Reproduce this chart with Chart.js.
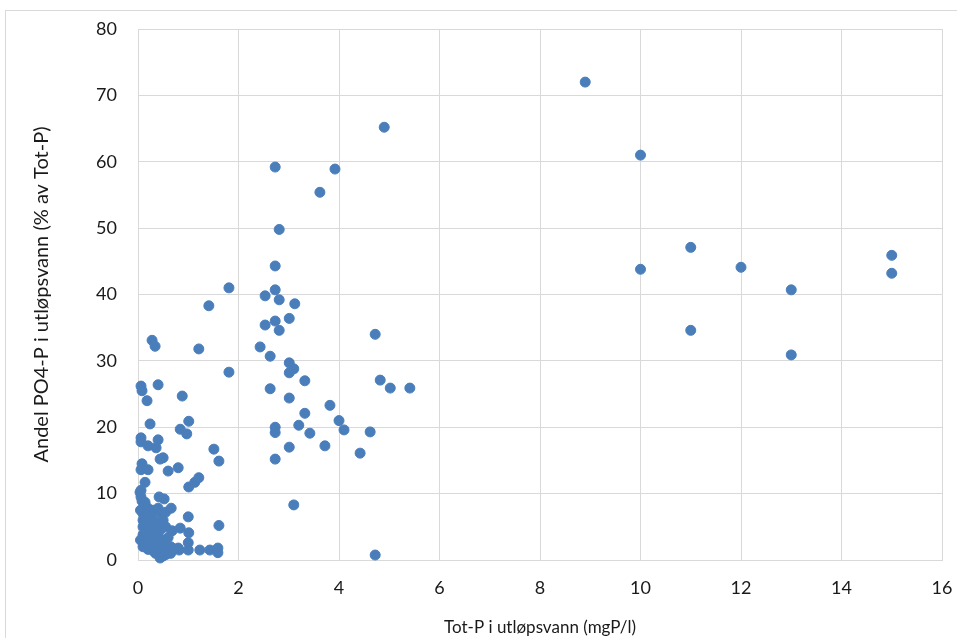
<!DOCTYPE html>
<html>
<head>
    <title>Andel PO4-P i utløpsvann</title>
    <script src="https://cdn.jsdelivr.net/npm/chart.js"></script>
    <style>
        body {
            margin: 0;
            background: #fff;
        }
        .chart-container {
            position: relative;
            width: 957px;
            height: 638px;
        }
    </style>
</head>
<body>
    <div class="chart-container">
        <canvas id="scatter"></canvas>
    </div>

    <script>
        // Tot-P (mgP/l) and share of PO4-P (% of Tot-P), one entry per plant
        const totP = [
            // low Tot-P cluster
            0.05, 0.10, 0.15, 0.20, 0.25, 0.30, 0.40, 0.45, 0.55, 0.10,
            0.20, 0.30, 0.40, 0.50, 0.10, 0.15, 0.25, 0.35, 0.45, 0.55,
            0.10, 0.20, 0.30, 0.40, 0.50, 0.60, 0.05, 0.15, 0.25, 0.35,
            0.45, 0.55, 0.65, 0.10, 0.20, 0.30, 0.40, 0.50, 0.60, 0.70,
            0.80, 0.45, 0.55, 0.50, 0.35, 0.65,
            // rest of the 0-2 range
            0.06, 0.08, 0.40, 0.88, 0.18, 0.24, 1.01, 0.84, 0.97, 0.06,
            0.06, 0.40, 0.20, 0.36, 1.51, 1.61, 0.50, 0.44, 0.08, 0.06,
            0.20, 0.80, 0.60, 1.21, 1.13, 1.01, 0.14, 0.06, 0.06, 0.42,
            0.52, 0.08, 0.66, 1.00, 1.61, 0.84, 0.68, 1.01, 1.00, 1.00,
            1.23, 1.43, 1.59, 1.59, 0.68, 0.82, 0.44, 0.28, 0.34, 1.21,
            1.41, 1.81, 1.81, 0.04, 0.14,
            // 2-6 range
            2.73, 3.92, 3.62, 2.81, 2.73, 2.73, 2.53, 2.81, 3.12, 3.01,
            2.73, 2.53, 2.81, 4.72, 2.43, 2.63, 3.01, 3.10, 3.01, 3.32,
            4.82, 5.02, 5.41, 2.63, 3.01, 3.82, 3.32, 4.00, 2.73, 2.73,
            3.20, 3.42, 4.10, 4.62, 3.01, 3.72, 4.42, 2.73, 3.10, 4.72,
            4.90,
            // high Tot-P
            8.9, 10, 10, 11, 11, 12, 13, 13, 15, 15
        ];

        const andelPO4 = [
            7.5, 7.0, 6.5, 7.8, 6.8, 7.5, 7.8, 7.0, 7.2, 6.0,
            5.5, 6.0, 5.5, 6.0, 5.0, 4.5, 4.8, 4.2, 4.6, 5.0,
            3.8, 3.5, 3.2, 3.6, 3.0, 3.4, 3.0, 2.5, 2.2, 2.6,
            2.0, 2.4, 2.0, 2.0, 1.6, 1.4, 1.8, 1.5, 1.2, 1.6,
            1.8, 1.0, 0.8, 0.6, 1.0, 1.0,
            26.2, 25.5, 26.4, 24.7, 24.0, 20.5, 20.9, 19.7, 19.0, 18.4,
            17.8, 18.1, 17.2, 16.9, 16.7, 14.9, 15.4, 15.2, 14.5, 13.6,
            13.6, 13.9, 13.4, 12.4, 11.7, 11.0, 11.7, 10.5, 9.5, 9.5,
            9.2, 8.9, 7.8, 6.5, 5.2, 4.8, 4.4, 4.1, 2.6, 1.5,
            1.5, 1.5, 1.8, 1.1, 1.8, 1.5, 0.3, 33.1, 32.2, 31.8,
            38.3, 41.0, 28.3, 10.2, 8.7,
            59.2, 58.9, 55.4, 49.8, 44.3, 40.7, 39.8, 39.2, 38.6, 36.4,
            36.0, 35.4, 34.6, 34.0, 32.1, 30.7, 29.7, 28.8, 28.2, 27.0,
            27.1, 25.9, 25.9, 25.8, 24.4, 23.3, 22.1, 21.0, 20.0, 19.2,
            20.3, 19.1, 19.6, 19.3, 17.0, 17.2, 16.1, 15.2, 8.3, 0.75,
            65.2,
            72.0, 61.0, 43.8, 47.1, 34.6, 44.1, 40.7, 30.9, 45.9, 43.2
        ];

        const xTicks = [0, 2, 4, 6, 8, 10, 12, 14, 16];
        const yTicks = [0, 10, 20, 30, 40, 50, 60, 70, 80];

        const points = totP.map((x, i) => ({ x: x, y: andelPO4[i] }));

        // thin outer frame around the whole chart
        const frame = {
            id: 'frame',
            beforeDraw(chart) {
                const c = chart.ctx;
                c.save();
                c.strokeStyle = '#d9d9d9';
                c.lineWidth = 1;
                c.strokeRect(5.5, 10.5, chart.width, chart.height);
                c.restore();
            }
        };

        const tickFont = { family: 'Lato', size: 18 };

        new Chart(document.getElementById('scatter'), {
            type: 'scatter',
            data: {
                datasets: [{
                    data: points,
                    backgroundColor: '#4a7ebb',
                    borderColor: '#4a7ebb',
                    pointRadius: 5,
                    pointHoverRadius: 5,
                    clip: false
                }]
            },
            options: {
                responsive: true,
                maintainAspectRatio: false,
                animation: false,
                layout: {
                    padding: { top: 29, right: 15, left: 0, bottom: 0 }
                },
                plugins: {
                    legend: { display: false },
                    tooltip: { enabled: false }
                },
                scales: {
                    x: {
                        type: 'linear',
                        min: 0,
                        max: 16,
                        afterBuildTicks: s => { s.ticks = xTicks.map(v => ({ value: v })); },
                        afterFit: s => {
                            // fixed axis band; label overflow is covered by layout padding
                            s.height = 78;
                            s.paddingLeft = 0;
                            s.paddingRight = 0;
                        },
                        grid: { color: '#d9d9d9', drawTicks: false },
                        border: { color: '#d9d9d9' },
                        ticks: { font: tickFont, color: '#1a1a1a', padding: 17 },
                        title: {
                            display: true,
                            text: 'Tot-P i utløpsvann (mgP/l)',
                            font: { family: 'Lato', size: 17 },
                            color: '#1a1a1a',
                            padding: { top: 0, bottom: 0 }
                        }
                    },
                    y: {
                        min: 0,
                        max: 80,
                        afterBuildTicks: s => { s.ticks = yTicks.map(v => ({ value: v })); },
                        afterFit: s => {
                            s.width = 138;
                            s.paddingTop = 0;
                            s.paddingBottom = 0;
                        },
                        grid: { color: '#d9d9d9', drawTicks: false },
                        border: { color: '#d9d9d9' },
                        ticks: { font: tickFont, color: '#1a1a1a', padding: 21 },
                        title: {
                            display: true,
                            text: 'Andel PO4-P i utløpsvann (% av Tot-P)',
                            font: { family: 'Lato', size: 20 },
                            color: '#1a1a1a',
                            padding: { top: 30, bottom: 0 }
                        }
                    }
                }
            },
            plugins: [frame]
        });
    </script>
</body>
</html>
